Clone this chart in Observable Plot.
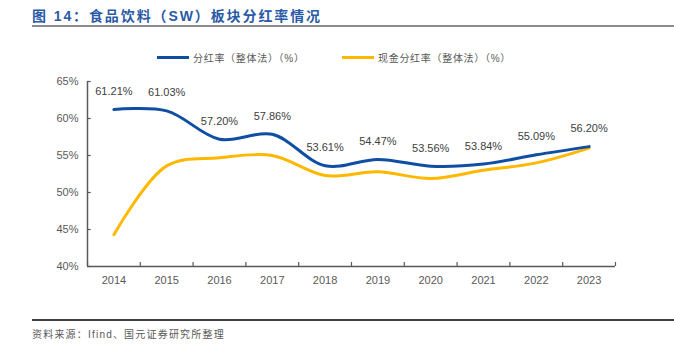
<!DOCTYPE html>
<html><head><meta charset="utf-8">
<script src="https://cdn.jsdelivr.net/npm/d3@7"></script>
<script src="https://cdn.jsdelivr.net/npm/@observablehq/plot@0.6"></script>
<style>
html,body{margin:0;padding:0;background:#fff;}
#wrap{position:relative;width:674px;height:345px;overflow:hidden;font-family:"Liberation Sans",Arial,"Noto Sans CJK SC",sans-serif;}
#title{position:absolute;left:32px;top:5px;font-size:14px;font-weight:bold;color:#2a5aa5;font-family:"Liberation Sans",Arial,"Noto Sans CJK SC",sans-serif;letter-spacing:1.9px;white-space:nowrap;}
#tline{position:absolute;left:32px;top:25px;width:642px;height:1.5px;background:#8c8c8c;}
.leg{position:absolute;top:50px;font-size:10px;color:#595959;letter-spacing:0.7px;white-space:nowrap;display:flex;align-items:center;}
.leg i{display:inline-block;width:32px;height:3px;margin-right:4px;}
#fline{position:absolute;left:32px;top:319px;width:642px;height:1.5px;background:#404040;}
#src{position:absolute;left:32px;top:326px;font-size:10px;color:#595959;letter-spacing:1.2px;white-space:nowrap;}
#chart{position:absolute;left:0;top:0;}
</style></head>
<body><div id="wrap">
<div id="chart"></div>
<div id="title">图 14：食品饮料（SW）板块分红率情况</div>
<div id="tline"></div>
<div class="leg" style="left:157px"><i style="background:#0f4ea3"></i>分红率（整体法）（%）</div>
<div class="leg" style="left:342px"><i style="background:#ffb800"></i>现金分红率（整体法）（%）</div>
<div id="fline"></div>
<div id="src">资料来源：Ifind、国元证券研究所整理</div>
</div>
<script>
const years = [2014,2015,2016,2017,2018,2019,2020,2021,2022,2023];
const payout = [61.21,61.03,57.20,57.86,53.61,54.47,53.56,53.84,55.09,56.20];
const cashPayout = [44.3,53.6,54.7,55.0,52.3,52.8,51.9,53.0,54.0,56.0];
const yTicks = [40,45,50,55,60,65];

const data = years.map((y,i)=>({year:y, payout:payout[i], cash:cashPayout[i]}));
const bounds = [years[0]-0.5, ...years.map(y=>y+0.5)];
const x0 = bounds[0];

const chart = Plot.plot({
  width: 674, height: 345,
  marginLeft: 87, marginRight: 59, marginTop: 81, marginBottom: 79,
  style: {fontFamily: '"Liberation Sans", Arial, sans-serif', fontSize: "11px", color: "#595959", background: "transparent"},
  x: {domain: [bounds[0], bounds[bounds.length-1]], axis: null},
  y: {domain: [40, 65], axis: null},
  marks: [
    Plot.axisX({ticks: years, tickSize: 0, tickPadding: 10, tickFormat: d => String(d), fill: "#595959", fontSize: 11, label: null}),
    Plot.axisY({ticks: yTicks, tickSize: 0, tickPadding: 9, tickFormat: d => d + "%", fill: "#595959", fontSize: 11, label: null}),
    Plot.ruleY([40], {stroke: "#595959", strokeWidth: 1.5}),
    Plot.ruleX([x0], {stroke: "#595959", strokeWidth: 1.5}),
    Plot.ruleX(bounds, {x: d => d, y1: 40, y2: 40.55, stroke: "#595959", strokeWidth: 1.2}),
    Plot.ruleY(yTicks, {y: d => d, x1: x0, x2: x0 + 0.07, stroke: "#595959", strokeWidth: 1.2}),
    Plot.line(data, {x: "year", y: "cash", stroke: "#ffb800", strokeWidth: 3, curve: "catmull-rom"}),
    Plot.line(data, {x: "year", y: "payout", stroke: "#0f4ea3", strokeWidth: 3, curve: "catmull-rom"}),
    Plot.text(data, {x: "year", y: "payout", text: d => d.payout.toFixed(2) + "%", dy: -18, fill: "#404040", fontSize: 11})
  ]
});
document.getElementById("chart").appendChild(chart);
</script>
</body></html>
